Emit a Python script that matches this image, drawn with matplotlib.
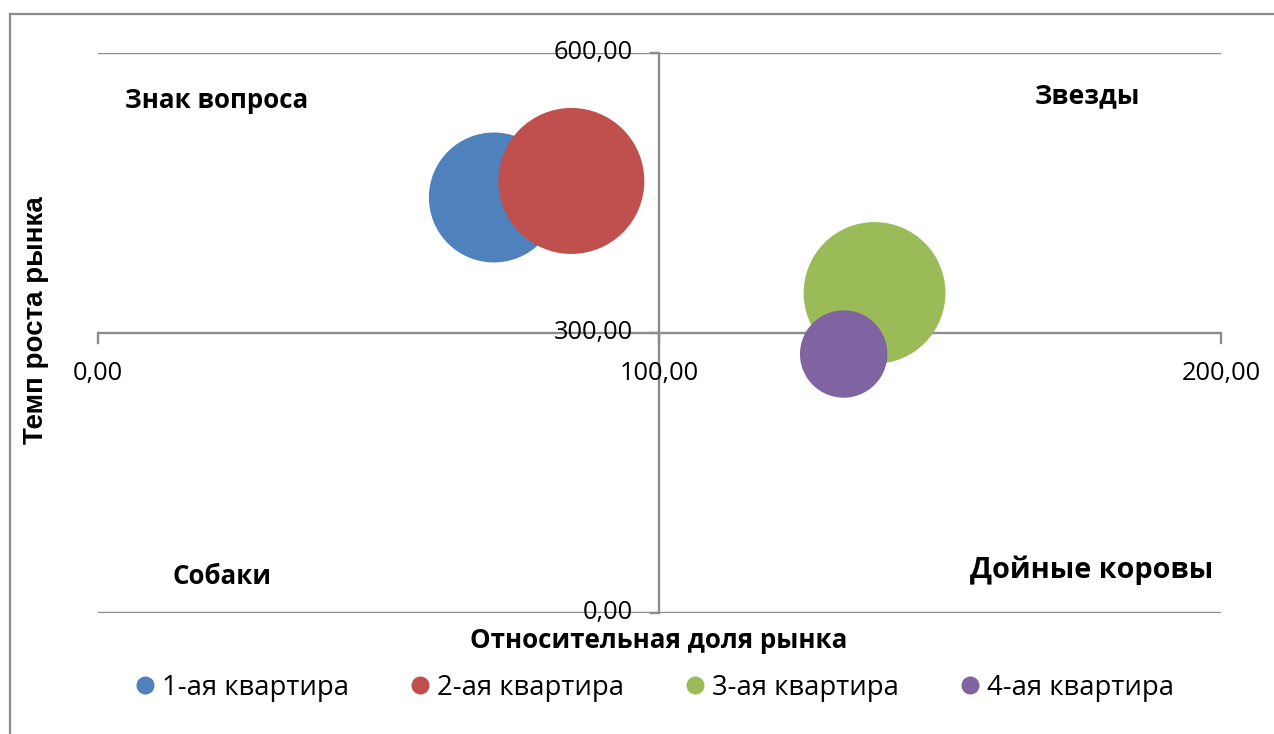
import matplotlib
matplotlib.use("Agg")
import matplotlib.pyplot as plt
import numpy as np
from matplotlib.lines import Line2D

plt.rcParams['font.family'] = ['Open Sans', 'DejaVu Sans']

series = ["1-ая квартира", "2-ая квартира", "3-ая квартира", "4-ая квартира"]
x_share = [70.5, 84.3, 138.3, 132.8]
y_growth = [445.2, 462.9, 342.9, 277.5]
bubble_size = [42.0, 53.0, 50.0, 19.0]
colors = ["#4F81BD", "#C0504D", "#9BBB59", "#8064A2"]
x_ticks = [0, 100, 200]
y_ticks = [0, 300, 600]
quadrants = ["Знак вопроса", "Звезды", "Собаки", "Дойные коровы"]

W, H = 1274, 734
fig = plt.figure(figsize=(W / 100, H / 100), dpi=100)
ax = fig.add_axes([98 / W, 1 - 613 / H, (1221 - 98) / W, (613 - 53) / H])
ax.set_xlim(0, 200)
ax.set_ylim(0, 600)
ax.axis('off')

grid_c = "#8C8C8C"
for yv in y_ticks:
    ax.axhline(yv, color=grid_c, lw=1.7, zorder=1)
ax.axvline(100, color=grid_c, lw=1.7, zorder=1)

def fmt(v):
    return f"{v:.2f}".replace('.', ',')

for xv in x_ticks:
    ax.plot([xv, xv], [300, 300 - 11], color=grid_c, lw=1.7, zorder=1, clip_on=False)
    ax.text(xv, 300 - 30, fmt(xv), ha='center', va='top', fontsize=18.3, color='black')
for yv in y_ticks:
    ax.plot([100 - 1.6, 100], [yv, yv], color=grid_c, lw=1.7, zorder=1, clip_on=False)
    ax.text(100 - 4.8, yv, fmt(yv), ha='right', va='center', fontsize=18.3, color='black')

# bubbles: area proportional to size; largest radius ~73 px
rmax_px = 73.0
smax = max(bubble_size)
for xi, yi, si, c, lab in zip(x_share, y_growth, bubble_size, colors, series):
    r_px = rmax_px * np.sqrt(si / smax)
    d_pt = 2 * r_px * 72 / 100
    ax.scatter([xi], [yi], s=d_pt ** 2, color=c, edgecolors='none', zorder=3, label=lab)

def ftext(px, py, s, **kw):
    fig.text(px / W, 1 - py / H, s, **kw)

ftext(125, 100, quadrants[0], ha='left', va='center', fontsize=18.6, fontweight='bold')
ftext(1035, 96, quadrants[1], ha='left', va='center', fontsize=19.2, fontweight='bold')
ftext(173, 577, quadrants[2], ha='left', va='center', fontsize=18.6, fontweight='bold')
ftext(970, 570, quadrants[3], ha='left', va='center', fontsize=20.8, fontweight='bold')

ftext(659, 640, "Относительная доля рынка", ha='center', va='center', fontsize=18.7, fontweight='bold')
ftext(36, 320, "Темп роста рынка", ha='center', va='center', rotation=90, fontsize=20,
      fontweight='bold', family=['Liberation Sans', 'DejaVu Sans'])

handles = [Line2D([], [], marker='o', linestyle='none', markersize=13, markerfacecolor=c,
                  markeredgecolor='none') for c in colors]
fig.legend(handles, series, loc='center', bbox_to_anchor=(654 / W, 1 - 688 / H), ncol=4,
           frameon=False, fontsize=19.8, handletextpad=0.2, columnspacing=2.2,
           handlelength=0.8)

# chart frame (cropped)
fig.add_artist(Line2D([10 / W, 10 / W], [0, 1 - 14 / H], transform=fig.transFigure,
                      color="#8C8C8C", lw=1.6))
fig.add_artist(Line2D([10 / W, 1], [1 - 14 / H, 1 - 14 / H], transform=fig.transFigure,
                      color="#8C8C8C", lw=1.6))

fig.savefig("out.png", dpi=100)
